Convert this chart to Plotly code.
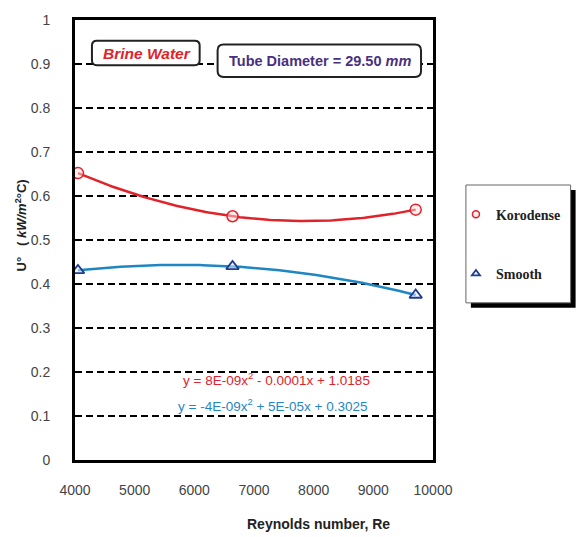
import numpy as np
import plotly.graph_objects as go

# ---- data ----
re_korodense = [4050, 6640, 9710]
u_korodense = [0.652, 0.554, 0.569]
re_smooth = [4050, 6640, 9710]
u_smooth = [0.431, 0.440, 0.375]
x_ticks = [4000, 5000, 6000, 7000, 8000, 9000, 10000]
y_ticks = [0, 0.1, 0.2, 0.3, 0.4, 0.5, 0.6, 0.7, 0.8, 0.9, 1]
eq_korodense = "y = 8E-09x<sup>2</sup> - 0.0001x + 1.0185"
eq_smooth = "y = -4E-09x<sup>2</sup> + 5E-05x + 0.3025"

RED = "#e0232b"
BLUE = "#1f86c4"
NAVY = "#1f3d8f"

W, H = 578, 537
L, R, T, B = 75, 144, 12, 77
pw, ph = W - L - R, H - T - B

def px(x):
    return (x - L) / pw

def py(y):
    return (H - B - y) / ph

def rounded(x0, y0, x1, y1, r):
    # rounded rectangle path in paper coords from pixel corners
    X0, X1, Y0, Y1 = px(x0), px(x1), py(y0), py(y1)
    rx, ry = r / pw, r / ph
    return (f"M {X0+rx},{Y0} L {X1-rx},{Y0} Q {X1},{Y0} {X1},{Y0-ry} "
            f"L {X1},{Y1+ry} Q {X1},{Y1} {X1-rx},{Y1} L {X0+rx},{Y1} "
            f"Q {X0},{Y1} {X0},{Y1+ry} L {X0},{Y0-ry} Q {X0},{Y0} {X0+rx},{Y0} Z")

fig = go.Figure()

# trendlines (2nd order polynomial fit of the data)
for xs, ys, col in [(re_korodense, u_korodense, RED), (re_smooth, u_smooth, BLUE)]:
    c = np.polyfit(xs, ys, 2)
    xx = np.linspace(min(xs), max(xs), 120)
    fig.add_trace(go.Scatter(x=xx, y=np.polyval(c, xx), mode="lines",
                             line=dict(color=col, width=2.5), showlegend=False,
                             hoverinfo="skip"))

kor_marker = dict(symbol="circle", color="rgba(255,220,220,0.5)", line=dict(color=RED, width=1.5))
sm_marker = dict(symbol="triangle-up", color="rgba(230,235,255,0.5)", line=dict(color=NAVY, width=1.8))

fig.add_trace(go.Scatter(x=re_korodense, y=u_korodense, mode="markers", showlegend=False,
                         marker=dict(size=11, **kor_marker)))
fig.add_trace(go.Scatter(x=re_smooth, y=u_smooth, mode="markers", showlegend=False,
                         marker=dict(size=11, **sm_marker)))
# legend entries (smaller symbols as in the reference legend)
fig.add_trace(go.Scatter(x=[None], y=[None], mode="markers", name="<b>Korodense</b>",
                         legendgroup="a", marker=dict(size=7, **kor_marker)))
fig.add_trace(go.Scatter(x=[None], y=[None], mode="markers", name="<b>Smooth</b>",
                         legendgroup="b", marker=dict(size=7, **sm_marker)))

tickfont = dict(family="Liberation Sans, Arial", size=14, color="#444")
fig.update_xaxes(range=[4000, 10000], tickvals=x_ticks, ticktext=[str(v) for v in x_ticks],
                 ticks="", showgrid=False,
                 zeroline=False, showline=True, linecolor="black", linewidth=3, mirror=True,
                 tickfont=tickfont, ticklabelstandoff=15)
fig.update_yaxes(range=[0, 1], tickvals=y_ticks, ticktext=[f"{v:g}" for v in y_ticks],
                 ticks="", showgrid=True, gridcolor="black", gridwidth=2, griddash="7px,4px",
                 zeroline=False, showline=True, linecolor="black", linewidth=3, mirror=True,
                 tickfont=tickfont, ticklabelstandoff=19)

shapes = []
# legend box with shadow
lx0, lx1, ly0, ly1 = 467, 572, 180, 300
shapes.append(dict(type="rect", xref="paper", yref="paper", x0=px(lx0 + 5), x1=px(lx1 + 5),
                   y0=py(ly1 + 5), y1=py(ly0 + 5), fillcolor="black", line=dict(width=0),
                   layer="below"))
shapes.append(dict(type="rect", xref="paper", yref="paper", x0=px(lx0), x1=px(lx1),
                   y0=py(ly1), y1=py(ly0), fillcolor="white", line=dict(color="#666", width=1),
                   layer="below"))
# rounded text boxes
shapes.append(dict(type="path", xref="paper", yref="paper", path=rounded(92, 33, 200, 58, 5),
                   fillcolor="white", line=dict(color="#222", width=2), layer="above"))
shapes.append(dict(type="path", xref="paper", yref="paper", path=rounded(218, 37, 422, 70, 6),
                   fillcolor="white", line=dict(color="#222", width=2), layer="above"))
fig.update_layout(shapes=shapes)

narrow = "Liberation Sans Narrow, Liberation Sans, Arial"
ann = []
ann.append(dict(x=px(147), y=py(46), text="<b><i>Brine Water</i></b>",
                font=dict(family="Liberation Sans, Arial", size=15.5, color=RED)))
ann.append(dict(x=px(321), y=py(54), text="<b>Tube Diameter = 29.50 <i>mm</i></b>",
                font=dict(family=narrow, size=14.5, color="#4a2f80")))
ann.append(dict(x=px(277), y=py(378), text=eq_korodense,
                font=dict(family=narrow, size=13.5, color=RED)))
ann.append(dict(x=px(274), y=py(404), text=eq_smooth,
                font=dict(family=narrow, size=13.5, color=BLUE)))
ann.append(dict(x=px(319), y=py(525), text="<b>Reynolds number, Re</b>",
                font=dict(family=narrow, size=14, color="#222")))
ann.append(dict(x=px(21), y=py(221), textangle=-90,
                text="<b>U°   ( <i>kW/m</i><sup>2</sup>°C)</b>",
                font=dict(family=narrow, size=13, color="#222")))
for a in ann:
    a.update(xref="paper", yref="paper", showarrow=False, xanchor="center", yanchor="middle")
fig.update_layout(annotations=ann)

fig.update_layout(
    width=W, height=H, margin=dict(l=L, r=R, t=T, b=B),
    paper_bgcolor="white", plot_bgcolor="white",
    legend=dict(x=px(457), y=py(194), xanchor="left", yanchor="top",
                bgcolor="rgba(0,0,0,0)", borderwidth=0, tracegroupgap=38,
                font=dict(family="Liberation Serif, Times New Roman", size=14, color="#222"),
                itemwidth=30),
    showlegend=True,
)

fig.write_html("out.html")
